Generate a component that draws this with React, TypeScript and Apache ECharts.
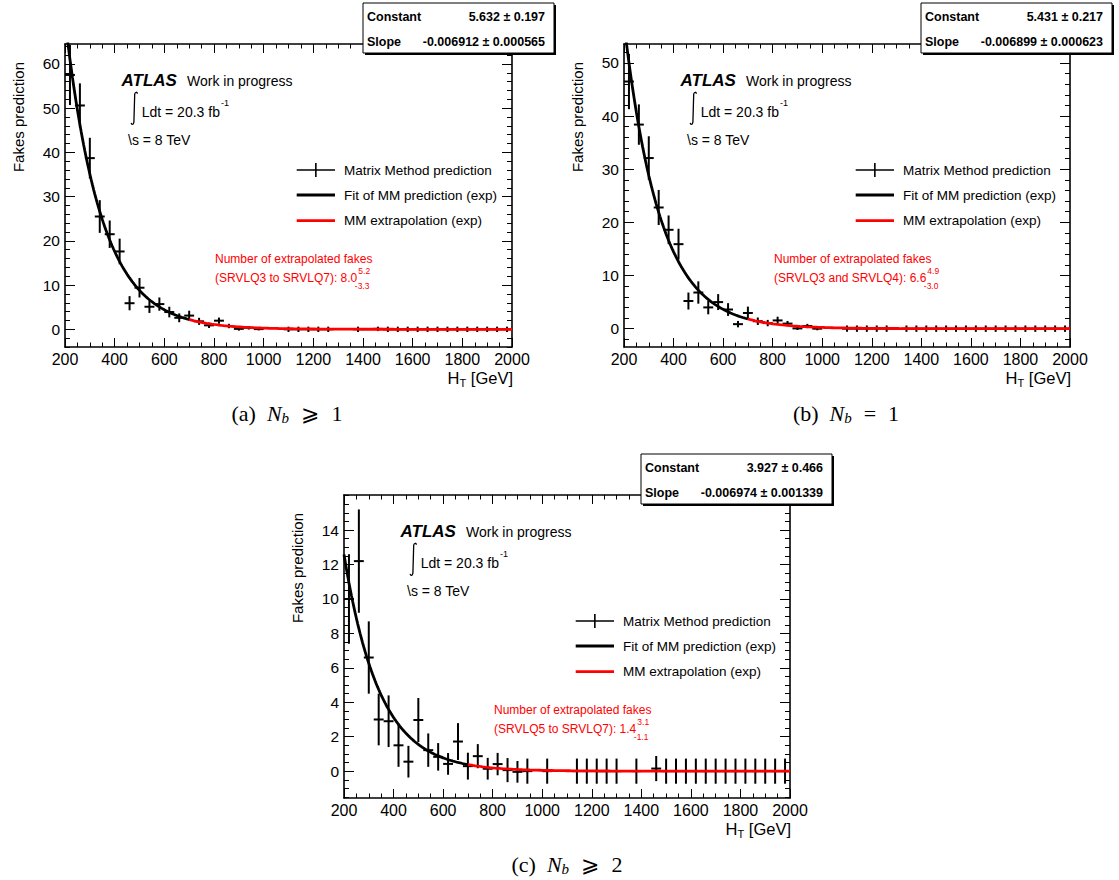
import React, { useEffect, useRef } from "react";
import * as echarts from "echarts";

// ---------------- DATA ----------------
const xTickLabels = [200, 400, 600, 800, 1000, 1200, 1400, 1600, 1800, 2000];
const yTicksA = [0, 10, 20, 30, 40, 50, 60];
const yTicksB = [0, 10, 20, 30, 40, 50];
const yTicksC = [0, 2, 4, 6, 8, 10, 12, 14];

// (a) N_b >= 1
const htA = [220, 260, 300, 340, 380, 420, 460, 500, 540, 580, 620, 660, 700, 740, 780, 820, 860, 900, 940, 980,
  1100, 1140, 1180, 1220, 1260, 1380, 1460, 1500, 1540, 1580, 1620, 1660, 1700, 1740, 1780, 1820, 1860, 1900, 1940, 1980];
const fakesA = [57.5, 50.6, 38.7, 25.5, 21.5, 17.6, 5.9, 9.4, 5.1, 5.7, 3.9, 2.6, 3.1, 1.8, 0.9, 1.95, 0.75, 0.1, 0.35, 0.05,
  0, 0, 0, 0, 0, 0, 0.1, 0, 0, 0, 0, 0, 0, 0, 0, 0, 0, 0, 0, 0];
const errA = [6.8, 5.0, 4.6, 3.7, 3.1, 2.9, 1.6, 2.2, 1.4, 1.5, 1.2, 1.0, 1.1, 0.8, 0.6, 0.7, 0.5, 0.4, 0.4, 0.3,
  0.6, 0.6, 0.6, 0.6, 0.6, 0.6, 0.5, 0.6, 0.6, 0.6, 0.6, 0.6, 0.6, 0.6, 0.6, 0.6, 0.6, 0.6, 0.6, 0.6];

// (b) N_b = 1
const htB = [220, 260, 300, 340, 380, 420, 460, 500, 540, 580, 620, 660, 700, 740, 780, 820, 860, 900, 940, 980,
  1100, 1140, 1180, 1220, 1260, 1340, 1380, 1420, 1460, 1500, 1540, 1580, 1620, 1660, 1700, 1740, 1780, 1820, 1860, 1900, 1940, 1980];
const fakesB = [46.5, 38.4, 32.1, 22.8, 18.6, 15.9, 5.2, 6.8, 4.0, 5.0, 3.6, 0.85, 2.95, 1.4, 1.05, 1.55, 0.95, 0.05, 0.5, 0,
  0, 0, 0, 0, 0, 0, 0, 0, 0, 0, 0, 0, 0, 0, 0, 0, 0, 0, 0, 0, 0, 0];
const errB = [5.2, 3.8, 4.1, 3.3, 2.7, 2.9, 1.6, 2.1, 1.3, 1.5, 1.2, 0.6, 1.2, 0.7, 0.6, 0.7, 0.5, 0.3, 0.4, 0.3,
  0.6, 0.6, 0.6, 0.6, 0.6, 0.6, 0.6, 0.6, 0.6, 0.6, 0.6, 0.6, 0.6, 0.6, 0.6, 0.6, 0.6, 0.6, 0.6, 0.6, 0.6, 0.6];

// (c) N_b >= 2
const htC = [220, 260, 300, 340, 380, 420, 460, 500, 540, 580, 620, 660, 700, 740, 780, 820, 860, 900, 940,
  1020, 1140, 1180, 1220, 1260, 1300, 1380, 1460, 1500, 1540, 1580, 1620, 1660, 1700, 1740, 1780, 1820, 1860, 1900, 1940, 1980];
const fakesC = [10.0, 12.2, 6.6, 3.0, 2.9, 1.5, 0.55, 2.97, 1.22, 0.83, 0.42, 1.72, 0.29, 0.87, 0.14, 0.41, 0.06, -0.04, 0,
  0, 0, 0, 0, 0, 0, 0, 0.15, 0, 0, 0, 0, 0, 0, 0, 0, 0, 0, 0, 0, 0];
const errC = [2.6, 3.0, 2.1, 1.5, 1.5, 1.25, 0.92, 1.28, 0.97, 0.8, 0.63, 1.07, 0.78, 0.7, 0.63, 0.65, 0.7, 0.63, 0.73,
  0.73, 0.73, 0.73, 0.73, 0.73, 0.73, 0.73, 0.73, 0.73, 0.73, 0.73, 0.73, 0.73, 0.73, 0.73, 0.73, 0.73, 0.73, 0.73, 0.73, 0.73];

// fit results (exponential: exp(Constant + Slope * HT))
const fitConstant = [5.632, 5.431, 3.927];
const fitConstantErr = [0.197, 0.217, 0.466];
const fitSlope = [-0.006912, -0.006899, -0.006974];
const fitSlopeErr = [0.000565, 0.000623, 0.001339];
const fitRange = [200, 700];
const extrapRange = [700, 2000];

const extrapRegions = ["SRVLQ3 to SRVLQ7", "SRVLQ3 and SRVLQ4", "SRVLQ5 to SRVLQ7"];
const extrapValue = [8.0, 6.6, 1.4];
const extrapUp = [5.2, 4.9, 3.1];
const extrapDown = [3.3, 3.0, 1.1];

const captionLetters = ["(a)", "(b)", "(c)"];
const captionRel = ["⩾", "=", "⩾"];
const captionNum = ["1", "1", "2"];

const legendNames = ["Matrix Method prediction", "Fit of MM prediction (exp)", "MM extrapolation (exp)"];

// ---------------- LAYOUT ----------------
const SANS = '"Liberation Sans", Arial, Helvetica, sans-serif';
const SERIF = '"Liberation Serif", "DejaVu Serif", "DejaVu Sans", serif';

const panels = [
  { left: 65, top: 44, width: 447, height: 303, yMin: -4.0, yMax: 64.5, minorStep: 2, majors: yTicksA,
    ht: htA, val: fakesA, err: errA, box: [363, 3], caption: [287, 413] },
  { left: 624, top: 44, width: 446, height: 303, yMin: -3.45, yMax: 53.56, minorStep: 2, majors: yTicksB,
    ht: htB, val: fakesB, err: errB, box: [921, 3], caption: [846, 413] },
  { left: 344, top: 495, width: 446, height: 303, yMin: -1.56, yMax: 16.04, minorStep: 0.5, majors: yTicksC,
    ht: htC, val: fakesC, err: errC, box: [641, 454], caption: [567, 864] },
];

// ---------------- HELPERS ----------------
let mctx: CanvasRenderingContext2D | null = null;
function measure(text: string, size: number, fam: string, weight = "normal", style = "normal") {
  if (!mctx) mctx = document.createElement("canvas").getContext("2d");
  mctx!.font = `${style} ${weight} ${size}px ${fam}`;
  return mctx!.measureText(text).width;
}

function txt(x: number, y: number, text: string, o: any = {}) {
  return {
    type: "text",
    x,
    y,
    z: 100,
    silent: true,
    rotation: o.rotation || 0,
    style: {
      text,
      fill: o.color || "#000",
      fontSize: o.size || 14,
      fontFamily: o.fam || SANS,
      fontWeight: o.weight || "normal",
      fontStyle: o.fstyle || "normal",
      align: o.align || "left",
      verticalAlign: o.va || "middle",
      textAlign: o.align || "left",
      textVerticalAlign: o.va || "middle",
    },
  };
}

type Seg = { t: string; size: number; fam?: string; weight?: string; fstyle?: string; dy?: number; gap?: number; color?: string };
function segs(list: Seg[], x: number, y: number, align: "left" | "center" | "right") {
  const widths = list.map((s) => measure(s.t, s.size, s.fam || SANS, s.weight, s.fstyle));
  let total = 0;
  list.forEach((s, i) => (total += (s.gap || 0) + widths[i]));
  let cx = align === "left" ? x : align === "center" ? x - total / 2 : x - total;
  const out: any[] = [];
  list.forEach((s, i) => {
    cx += s.gap || 0;
    out.push(txt(cx, y + (s.dy || 0), s.t, { size: s.size, fam: s.fam, weight: s.weight, fstyle: s.fstyle, color: s.color }));
    cx += widths[i];
  });
  return out;
}

function hline(x1: number, x2: number, y: number, color: string, w: number) {
  return { type: "line", z: 100, silent: true, shape: { x1, y1: y, x2, y2: y }, style: { stroke: color, lineWidth: w } };
}
function vline(x: number, y1: number, y2: number, color: string, w: number) {
  return { type: "line", z: 100, silent: true, shape: { x1: x, y1, x2: x, y2 }, style: { stroke: color, lineWidth: w } };
}

function minorValues(min: number, max: number, step: number, majors: number[]) {
  const out: number[] = [];
  const start = Math.ceil(min / step - 1e-9);
  for (let k = start; k * step <= max + 1e-9; k++) {
    const v = Math.round(k * step * 1000) / 1000;
    if (!majors.some((m) => Math.abs(m - v) < 1e-9)) out.push(v);
  }
  return out;
}

function fitCurve(i: number, from: number, to: number, step: number) {
  const pts: number[][] = [];
  for (let x = from; x <= to + 1e-9; x += step) pts.push([x, Math.exp(fitConstant[i] + fitSlope[i] * x)]);
  return pts;
}

echarts.graphic.registerShape(
  "integralSign",
  echarts.graphic.extendPath("M6.2,2.2 C6.0,0.2 4.0,0.0 3.5,2.6 L2.7,30.6 C2.3,33.5 0.3,33.3 0,31.3", {}) as any
);

function buildOption() {
  const grid: any[] = [];
  const xAxis: any[] = [];
  const yAxis: any[] = [];
  const series: any[] = [];
  const graphic: any[] = [];

  const axisLine = { show: true, onZero: false, lineStyle: { color: "#000", width: 1.6 } };
  const tickLine = { color: "#000", width: 1 };

  panels.forEach((p, i) => {
    grid.push({ left: p.left, top: p.top, width: p.width, height: p.height, containLabel: false });
    const xBase = {
      gridIndex: i, type: "value", min: 200, max: 2000, interval: 200,
      axisLine, splitLine: { show: false }, minorSplitLine: { show: false },
      axisTick: { show: true, inside: true, length: 9, lineStyle: tickLine },
      minorTick: { show: true, splitNumber: 4, length: 4.5, lineStyle: tickLine },
    };
    xAxis.push({ ...xBase, position: "bottom",
      axisLabel: { show: true, margin: 4, fontSize: 16, color: "#000", fontFamily: SANS,
        customValues: xTickLabels, formatter: (v: number) => String(v) } });
    xAxis.push({ ...xBase, position: "top", axisLabel: { show: false } });

    const minors = minorValues(p.yMin, p.yMax, p.minorStep, p.majors);
    const yBase = { gridIndex: i, type: "value", min: p.yMin, max: p.yMax, splitLine: { show: false } };
    ["left", "right"].forEach((pos) => {
      yAxis.push({ ...yBase, position: pos, axisLine,
        axisTick: { show: true, inside: true, length: 10, lineStyle: tickLine, customValues: p.majors },
        axisLabel: pos === "left"
          ? { show: true, margin: 5, fontSize: 15.5, color: "#000", fontFamily: SANS, customValues: p.majors,
              formatter: (v: number) => String(v) }
          : { show: false } });
      yAxis.push({ ...yBase, position: pos, axisLine: { show: false },
        axisTick: { show: true, inside: true, length: 5, lineStyle: tickLine, customValues: minors },
        axisLabel: { show: false } });
    });

    const data = p.ht.map((h, k) => [h, p.val[k], p.err[k]]);
    series.push({
      type: "custom", name: legendNames[0], xAxisIndex: 2 * i, yAxisIndex: 4 * i, data,
      encode: { x: 0, y: 1 }, z: 2,
      renderItem: (params: any, api: any) => {
        const cs = params.coordSys;
        const x = api.value(0), y = api.value(1), e = api.value(2);
        const l = api.coord([x - 20, y]);
        const r = api.coord([x + 20, y]);
        const t = api.coord([x, y + e]);
        const b = api.coord([x, y - e]);
        const clampY = (v: number) => Math.max(cs.y, Math.min(cs.y + cs.height, v));
        const children: any[] = [
          { type: "line", shape: { x1: t[0], y1: clampY(t[1]), x2: b[0], y2: clampY(b[1]) }, style: { stroke: "#000", lineWidth: 2 } },
        ];
        if (l[1] >= cs.y && l[1] <= cs.y + cs.height)
          children.push({ type: "line", shape: { x1: Math.max(cs.x, l[0]), y1: l[1], x2: r[0], y2: r[1] }, style: { stroke: "#000", lineWidth: 2 } });
        return { type: "group", children };
      },
    });
    series.push({
      type: "line", name: legendNames[1], xAxisIndex: 2 * i, yAxisIndex: 4 * i, showSymbol: false, symbol: "none", z: 3,
      clip: true, lineStyle: { color: "#000", width: 2.8 }, itemStyle: { color: "#000" },
      data: fitCurve(i, fitRange[0], fitRange[1], 5),
    });
    series.push({
      type: "line", name: legendNames[2], xAxisIndex: 2 * i, yAxisIndex: 4 * i, showSymbol: false, symbol: "none", z: 4,
      clip: true, lineStyle: { color: "#ff0000", width: 2.8 }, itemStyle: { color: "#ff0000" },
      data: fitCurve(i, extrapRange[0], extrapRange[1], 10),
    });

    const L = p.left, T = p.top, R = p.left + p.width, B = p.top + p.height;

    // axis titles
    graphic.push(txt(L - 47, T + 18, "Fakes prediction", { size: 15, align: "right", rotation: Math.PI / 2 }));
    graphic.push(...segs([
      { t: "H", size: 16.5 },
      { t: "T", size: 11, dy: 5 },
      { t: " [GeV]", size: 16.5 },
    ], R + 1, B + 31, "right"));

    // ATLAS label
    graphic.push(txt(L + 56.5, T + 36.7, "ATLAS", { size: 17, weight: "bold", fstyle: "italic" }));
    graphic.push(txt(L + 122, T + 37, "Work in progress", { size: 14 }));
    graphic.push({ type: "integralSign", x: L + 66.2, y: T + 47.6, z: 100, silent: true,
      style: { fill: "none", stroke: "#000", lineWidth: 1.3 } });
    const ldt = "Ldt = 20.3 fb";
    graphic.push(txt(L + 76.7, T + 67.7, ldt, { size: 14 }));
    graphic.push(txt(L + 76.7 + measure(ldt, 14, SANS) + 1, T + 58.7, "-1", { size: 9 }));
    graphic.push(txt(L + 63, T + 96, "\\s = 8 TeV", { size: 14 }));

    // legend
    const lx1 = L + 231.7, lx2 = L + 270, tx = L + 279;
    const rows = [T + 126, T + 151, T + 176.7];
    graphic.push(hline(lx1, lx2, rows[0], "#000", 1.6));
    graphic.push(vline((lx1 + lx2) / 2, rows[0] - 7, rows[0] + 7, "#000", 1.6));
    graphic.push(hline(lx1, lx2, rows[1], "#000", 2.8));
    graphic.push(hline(lx1, lx2, rows[2], "#ff0000", 2.8));
    legendNames.forEach((n, k) => graphic.push(txt(tx, rows[k], n, { size: 13.5 })));

    // extrapolation annotation
    const red = "#ff0000";
    graphic.push(txt(L + 150, T + 215.3, "Number of extrapolated fakes", { size: 12, color: red }));
    const base = `(${extrapRegions[i]}): ${extrapValue[i].toFixed(1)}`;
    const by = T + 233.7;
    graphic.push(txt(L + 150, by, base, { size: 12, color: red }));
    const bw = measure(base, 12, SANS);
    graphic.push(txt(L + 150 + bw + 1, by - 6.4, extrapUp[i].toFixed(1), { size: 8.5, color: red }));
    graphic.push(txt(L + 150 + bw - 2.5, by + 8.3, "-" + extrapDown[i].toFixed(1), { size: 8.5, color: red }));

    // stats box
    const [bx, byy] = p.box;
    const bwid = 191, bh = 50;
    graphic.push({ type: "rect", z: 99, silent: true, shape: { x: bx + 2, y: byy + 2, width: bwid, height: bh }, style: { fill: "#000" } });
    graphic.push({ type: "rect", z: 99, silent: true, shape: { x: bx, y: byy, width: bwid, height: bh }, style: { fill: "#fff", stroke: "#000", lineWidth: 1 } });
    graphic.push(txt(bx + 4, byy + 14.3, "Constant", { size: 12.5, weight: "bold" }));
    graphic.push(txt(bx + bwid - 9, byy + 14.3, `${fitConstant[i].toFixed(3)} ± ${fitConstantErr[i].toFixed(3)}`, { size: 12.5, weight: "bold", align: "right" }));
    graphic.push(txt(bx + 4, byy + 38.7, "Slope", { size: 12.5, weight: "bold" }));
    graphic.push(txt(bx + bwid - 9, byy + 38.7, `${fitSlope[i].toFixed(6)} ± ${fitSlopeErr[i].toFixed(6)}`, { size: 12.5, weight: "bold", align: "right" }));

    // caption
    const [cxp, cyp] = p.caption;
    graphic.push(...segs([
      { t: captionLetters[i], size: 22, fam: SERIF },
      { t: "N", size: 22, fam: SERIF, fstyle: "italic", gap: 11 },
      { t: "b", size: 15, fam: SERIF, fstyle: "italic", dy: 5 },
      { t: captionRel[i], size: 22, fam: SERIF, gap: 12 },
      { t: captionNum[i], size: 22, fam: SERIF, gap: 12 },
    ], cxp, cyp, "center"));
  });

  return {
    animation: false,
    backgroundColor: "#fff",
    grid, xAxis, yAxis, series, graphic,
  };
}

export default function App() {
  const ref = useRef<HTMLDivElement>(null);
  useEffect(() => {
    if (!ref.current) return;
    const chart = echarts.init(ref.current, undefined, { renderer: "svg", width: 1119, height: 880 });
    chart.setOption(buildOption() as any);
    return () => chart.dispose();
  }, []);
  return (
    <div
      ref={ref}
      style={{ position: "absolute", left: 0, top: 0, width: 1119, height: 880, background: "#fff" }}
    />
  );
}
